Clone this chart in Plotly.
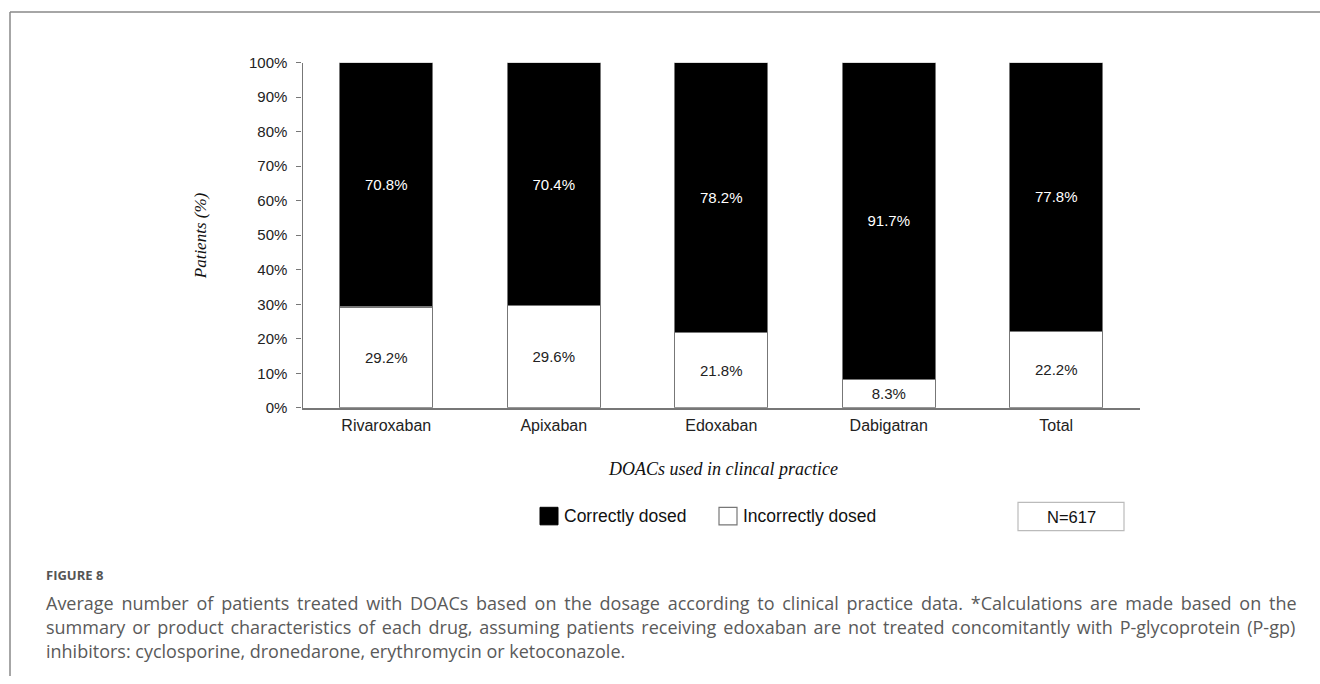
import plotly.graph_objects as go

# Data
drugs = ["Rivaroxaban", "Apixaban", "Edoxaban", "Dabigatran", "Total"]
correct_pct = [70.8, 70.4, 78.2, 91.7, 77.8]
incorrect_pct = [29.2, 29.6, 21.8, 8.3, 22.2]
y_ticks = [0, 10, 20, 30, 40, 50, 60, 70, 80, 90, 100]
y_tick_labels = [f"{t}%" for t in y_ticks]
sample_size = "N=617"

caption_head = "FIGURE 8"
caption_lines = [
    "Average number of patients treated with DOACs based on the dosage according to clinical practice data. *Calculations are made based on the",
    "summary or product characteristics of each drug, assuming patients receiving edoxaban are not treated concomitantly with P-glycoprotein (P-gp)",
    "inhibitors: cyclosporine, dronedarone, erythromycin or ketoconazole.",
]
# extra word spacing (px) so the first two caption lines fill the full text width
caption_word_spacing = [3.1, 2.2, 0]

W, H = 1320, 684
px = lambda x: x / W
py = lambda y: 1 - y / H

SANS = "Liberation Sans, Arial, sans-serif"
SERIF = "Liberation Serif, Times New Roman, serif"
CAP = "Open Sans, sans-serif"
EDGE = "#777777"

fig = go.Figure()

# Stacked bars: incorrectly dosed (bottom, white) and correctly dosed (top, black)
fig.add_trace(go.Bar(
    x=drugs, y=incorrect_pct, name="Incorrectly dosed",
    marker=dict(color="white", line=dict(color=EDGE, width=1.2)),
    text=[f"{v}%" for v in incorrect_pct], textposition="inside",
    insidetextanchor="middle", textangle=0,
    textfont=dict(family=SANS, size=15, color="#222222"),
    width=0.555, showlegend=False,
))
fig.add_trace(go.Bar(
    x=drugs, y=correct_pct, name="Correctly dosed",
    marker=dict(color="black", line=dict(color=EDGE, width=1.2)),
    text=[f"{v}%" for v in correct_pct], textposition="inside",
    insidetextanchor="middle", textangle=0,
    textfont=dict(family=SANS, size=15, color="white"),
    width=0.555, showlegend=False,
))

fig.update_layout(
    barmode="stack",
    width=W, height=H,
    margin=dict(l=0, r=0, t=0, b=0),
    paper_bgcolor="white", plot_bgcolor="white",
    uniformtext=dict(minsize=8, mode="show"),
    xaxis=dict(
        domain=[px(302.5), px(1140)],
        range=[-0.5, 4.5],
        showline=True, linecolor=EDGE, linewidth=1.5,
        ticks="", showgrid=False, zeroline=False,
        tickfont=dict(family=SANS, size=16, color="#222222"),
        ticklabelstandoff=2,
    ),
    yaxis=dict(
        domain=[py(409), py(55)],
        range=[0, 100],
        tickvals=y_ticks, ticktext=y_tick_labels,
        showline=True, linecolor=EDGE, linewidth=1.2,
        ticks="outside", ticklen=5, tickcolor=EDGE,
        showgrid=False, zeroline=False,
        tickfont=dict(family=SANS, size=15, color="#222222"),
        ticklabelstandoff=6,
    ),
)


def label(x, y, text, font, xanchor="center", **kw):
    return dict(x=px(x), y=py(y), xref="paper", yref="paper", text=text,
                xanchor=xanchor, yanchor="middle", showarrow=False,
                font=font, **kw)


ann = [
    # Axis titles
    label(200, 233, "<i>Patients (%)</i>",
          dict(family=SERIF, size=17, color="#111111"), textangle=-90),
    label(723, 472, "<i>DOACs used in clincal practice</i>",
          dict(family=SERIF, size=18, color="#111111")),
    # Legend text and sample size
    label(562, 520, "Correctly dosed",
          dict(family=SANS, size=17.5, color="#111111"), xanchor="left"),
    label(741, 520, "Incorrectly dosed",
          dict(family=SANS, size=17.5, color="#111111"), xanchor="left"),
    label(1071, 521, sample_size,
          dict(family=SANS, size=16.5, color="#111111")),
    # Caption
    label(44, 580, caption_head,
          dict(family=CAP, size=13, color="#555555", weight=700), xanchor="left"),
]
for i, (line, ws) in enumerate(zip(caption_lines, caption_word_spacing)):
    txt = f'<span style="word-spacing:{ws}px">{line}</span>' if ws else line
    ann.append(label(44, 609 + 24.5 * i, txt,
                     dict(family=CAP, size=18, color="#5a5a5a"), xanchor="left"))

shapes = [
    # Legend swatches
    dict(type="rect", xref="paper", yref="paper",
         x0=px(540), x1=px(558), y0=py(529), y1=py(511),
         fillcolor="black", line=dict(color="black", width=1)),
    dict(type="rect", xref="paper", yref="paper",
         x0=px(719), x1=px(737), y0=py(529), y1=py(511),
         fillcolor="white", line=dict(color=EDGE, width=1.2)),
    # Sample size box
    dict(type="rect", xref="paper", yref="paper",
         x0=px(1018), x1=px(1124), y0=py(535), y1=py(506),
         fillcolor="white", line=dict(color="#bbbbbb", width=1.2), layer="below"),
    # Figure frame
    dict(type="line", xref="paper", yref="paper",
         x0=px(10), x1=px(10), y0=py(3), y1=py(684),
         line=dict(color="#888888", width=1.5)),
    dict(type="line", xref="paper", yref="paper",
         x0=px(10), x1=px(1320), y0=py(3), y1=py(3),
         line=dict(color="#888888", width=1.5)),
]

fig.update_layout(annotations=ann, shapes=shapes)
fig.write_html("out.html")
